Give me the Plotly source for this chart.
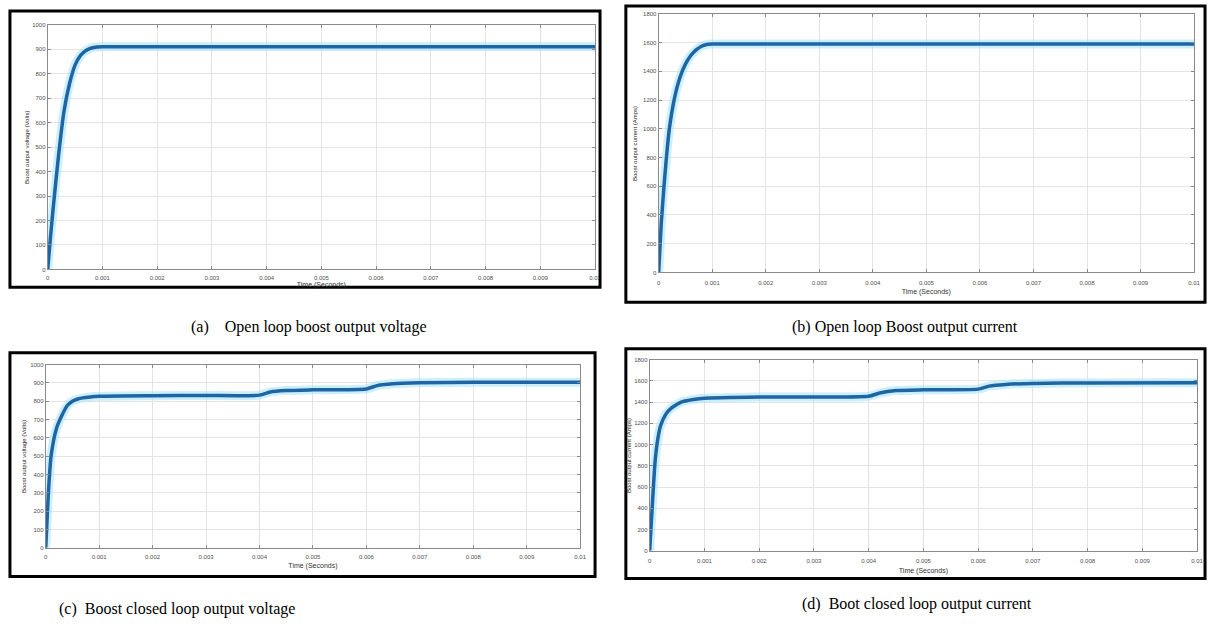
import plotly.graph_objects as go

W, H = 1215, 633

# ---------------- data ----------------
x_ticks = [0, 0.001, 0.002, 0.003, 0.004, 0.005, 0.006, 0.007, 0.008, 0.009, 0.01]
x_tick_labels = ["0", "0.001", "0.002", "0.003", "0.004", "0.005", "0.006", "0.007", "0.008", "0.009", "0.01"]

# (a) open loop boost output voltage
t_a = [0, 0.00005, 0.0001, 0.0002, 0.0003, 0.0004, 0.0005, 0.0006, 0.0007, 0.0008, 0.0009, 0.001,
       0.002, 0.004, 0.006, 0.008, 0.01]
v_a = [0, 130, 250, 470, 650, 760, 835, 875, 895, 905, 909, 910,
       910, 910, 910, 910, 910]

# (b) open loop boost output current
t_b = [0, 0.00005, 0.0001, 0.00015, 0.0002, 0.0003, 0.0004, 0.0005, 0.0006, 0.0007, 0.0008, 0.0009, 0.001,
       0.002, 0.004, 0.006, 0.008, 0.01]
i_b = [0, 350, 600, 820, 1000, 1220, 1360, 1450, 1510, 1550, 1575, 1587, 1590,
       1590, 1590, 1590, 1590, 1590]

# (c) boost closed loop output voltage
t_c = [0, 0.00005, 0.0001, 0.0002, 0.0003, 0.0004, 0.0005, 0.0006, 0.0007, 0.0008, 0.001, 0.002, 0.003,
       0.004, 0.0042, 0.0045, 0.005, 0.006, 0.0062, 0.0065, 0.007, 0.008, 0.01]
v_c = [0, 300, 500, 650, 720, 775, 800, 812, 818, 822, 827, 830, 831,
       833, 850, 858, 862, 867, 885, 895, 900, 903, 903]

# (d) boost closed loop output current
t_d = [0, 0.00005, 0.0001, 0.00015, 0.0002, 0.0003, 0.0004, 0.0005, 0.0006, 0.0008, 0.001, 0.002,
       0.004, 0.0042, 0.0045, 0.005, 0.006, 0.0062, 0.0065, 0.007, 0.008, 0.01]
i_d = [0, 450, 850, 1060, 1180, 1290, 1345, 1380, 1405, 1425, 1437, 1448,
       1455, 1485, 1508, 1515, 1522, 1550, 1566, 1576, 1580, 1582]

y_ticks_v = [0, 100, 200, 300, 400, 500, 600, 700, 800, 900, 1000]
y_ticks_i = [0, 200, 400, 600, 800, 1000, 1200, 1400, 1600, 1800]

captions = ["(a)\u00a0\u00a0\u00a0\u00a0Open loop boost output voltage",
            "(b) Open loop Boost output current",
            "(c)\u00a0\u00a0Boost closed loop output voltage",
            "(d)\u00a0\u00a0Boot closed loop output current"]

y_titles = ["Boost output voltage (Volts)", "Boost output current (Amps)",
            "Boost output voltage (Volts)", "Boost output current (Amps)"]

# ---------------- layout geometry (pixels) ----------------
panels = [
    dict(t=t_a, y=v_a, yt=y_ticks_v, yr=[0, 1000], plot=(46, 597, 22, 269), box=(8, 602, 8, 287),
         cap=(188, 327), ytx=25, tls=2, xst=1),
    dict(t=t_b, y=i_b, yt=y_ticks_i, yr=[0, 1800], plot=(661, 1200, 11, 272), box=(628, 1211, 3, 302),
         cap=(793, 327), ytx=637, tls=4, xst=4),
    dict(t=t_c, y=v_c, yt=y_ticks_v, yr=[0, 1000], plot=(44, 582, 365, 550), box=(8, 597, 353, 579),
         cap=(55, 612), ytx=22, tls=3, xst=4),
    dict(t=t_d, y=i_d, yt=y_ticks_i, yr=[0, 1800], plot=(652, 1203, 360, 553), box=(628, 1211, 349, 581),
         cap=(803, 607), ytx=631, tls=4, xst=5),
]

fig = go.Figure()
layout = dict(width=W, height=H, margin=dict(l=0, r=0, t=0, b=0),
              paper_bgcolor="white", plot_bgcolor="white", showlegend=False)
shapes, annotations = [], []
tickfont = dict(family="Liberation Sans", size=6, color="#505050")

for k, p in enumerate(panels):
    n = "" if k == 0 else str(k + 1)
    x0, x1, y0, y1 = p["plot"]
    # halo (ripple band)
    fig.add_trace(go.Scatter(x=p["t"], y=p["y"], mode="lines",
                             line=dict(color="rgba(160,225,250,0.55)", width=9, shape="spline", smoothing=0.6),
                             xaxis="x" + n, yaxis="y" + n, hoverinfo="skip"))
    fig.add_trace(go.Scatter(x=p["t"], y=p["y"], mode="lines",
                             line=dict(color="#1f64a3", width=3.5, shape="spline", smoothing=0.6),
                             xaxis="x" + n, yaxis="y" + n))
    layout["xaxis" + n] = dict(domain=[x0 / W, x1 / W], anchor="y" + n, range=[0, 0.01],
                               tickvals=x_ticks, ticktext=x_tick_labels,
                               showgrid=True, gridcolor="#e4e4e4", gridwidth=1,
                               showline=True, mirror="ticks", linecolor="#8a8a8a", linewidth=1,
                               ticks="inside", ticklen=3, tickcolor="#8a8a8a",
                               ticklabelstandoff=p["tls"],
                               tickfont=tickfont, zeroline=False, fixedrange=True,
                               title=dict(text="Time (Seconds)", standoff=p["xst"],
                                          font=dict(family="Liberation Sans", size=7, color="#333")))
    layout["yaxis" + n] = dict(domain=[1 - y1 / H, 1 - y0 / H], anchor="x" + n, range=p["yr"],
                               tickvals=p["yt"],
                               showgrid=True, gridcolor="#e4e4e4", gridwidth=1,
                               showline=True, mirror="ticks", linecolor="#8a8a8a", linewidth=1,
                               ticks="inside", ticklen=3, tickcolor="#8a8a8a",
                               tickfont=tickfont, zeroline=False, fixedrange=True)
    # y-axis title as rotated text
    annotations.append(dict(text=y_titles[k], xref="paper", yref="paper", x=p["ytx"] / W,
                            y=1 - (y0 + y1) / 2 / H, textangle=-90, showarrow=False,
                            xanchor="center", yanchor="middle",
                            font=dict(family="Liberation Sans", size=6, color="#222")))
    bx0, bx1, by0, by1 = p["box"]
    shapes.append(dict(type="rect", xref="paper", yref="paper", x0=bx0 / W, x1=bx1 / W,
                       y0=1 - by1 / H, y1=1 - by0 / H, line=dict(color="black", width=3),
                       fillcolor="rgba(0,0,0,0)"))
    cx, cy = p["cap"]
    annotations.append(dict(text=captions[k], xref="paper", yref="paper", x=cx / W, y=1 - cy / H,
                            xanchor="left", yanchor="middle", showarrow=False,
                            font=dict(family="Liberation Serif", size=16, color="black")))

layout["shapes"] = shapes
layout["annotations"] = annotations
fig.update_layout(**layout)
fig.write_html("out.html", config={"displayModeBar": False},
               post_script="document.body.style.margin='0px';document.body.style.overflow='hidden';")
